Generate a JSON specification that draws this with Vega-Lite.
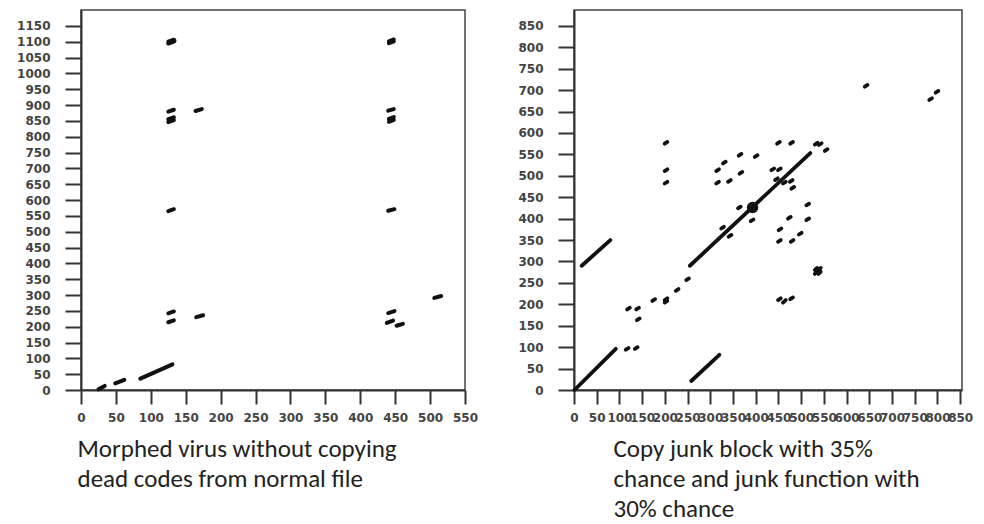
{
  "$schema": "https://vega.github.io/schema/vega-lite/v6.json",
  "padding": {"left": 15, "top": 9, "right": 0, "bottom": 0},
  "background": "white",
  "spacing": 38,
  "datasets": {
    "left": [
      {"x": 25, "y": 2, "x2": 34, "y2": 13},
      {"x": 49, "y": 21, "x2": 62, "y2": 32},
      {"x": 85, "y": 36, "x2": 131, "y2": 81},
      {"x": 125, "y": 1094, "x2": 133, "y2": 1100},
      {"x": 125, "y": 1100, "x2": 133, "y2": 1106},
      {"x": 126, "y": 1097, "x2": 134, "y2": 1103},
      {"x": 125, "y": 879, "x2": 133, "y2": 885},
      {"x": 125, "y": 855, "x2": 133, "y2": 861},
      {"x": 125, "y": 846, "x2": 133, "y2": 852},
      {"x": 125, "y": 565, "x2": 133, "y2": 571},
      {"x": 125, "y": 242, "x2": 133, "y2": 248},
      {"x": 125, "y": 214, "x2": 133, "y2": 220},
      {"x": 164, "y": 881, "x2": 173, "y2": 887},
      {"x": 165, "y": 230, "x2": 175, "y2": 236},
      {"x": 441, "y": 1095, "x2": 448, "y2": 1101},
      {"x": 441, "y": 1101, "x2": 448, "y2": 1107},
      {"x": 440, "y": 882, "x2": 448, "y2": 887},
      {"x": 441, "y": 847, "x2": 448, "y2": 853},
      {"x": 441, "y": 856, "x2": 448, "y2": 862},
      {"x": 440, "y": 566, "x2": 449, "y2": 571},
      {"x": 440, "y": 243, "x2": 449, "y2": 249},
      {"x": 438, "y": 212, "x2": 447, "y2": 219},
      {"x": 452, "y": 203, "x2": 461, "y2": 209},
      {"x": 506, "y": 291, "x2": 516, "y2": 297}
    ],
    "right": [
      {"x": 1, "y": 0, "x2": 92, "y2": 96},
      {"x": 17, "y": 290, "x2": 80, "y2": 350},
      {"x": 258, "y": 21, "x2": 320, "y2": 82},
      {"x": 255, "y": 290, "x2": 520, "y2": 553},
      {"x": 114, "y": 94, "x2": 120, "y2": 98},
      {"x": 134, "y": 96, "x2": 140, "y2": 100},
      {"x": 117, "y": 188, "x2": 123, "y2": 192},
      {"x": 137, "y": 188, "x2": 143, "y2": 192},
      {"x": 138.5, "y": 163, "x2": 144.5, "y2": 167},
      {"x": 172.5, "y": 208, "x2": 178.5, "y2": 212},
      {"x": 199.5, "y": 210, "x2": 205.5, "y2": 214},
      {"x": 199.5, "y": 204, "x2": 205.5, "y2": 208},
      {"x": 224, "y": 231.5, "x2": 230, "y2": 235.5},
      {"x": 247, "y": 256.5, "x2": 253, "y2": 260.5},
      {"x": 199.5, "y": 575, "x2": 205.5, "y2": 579},
      {"x": 199.5, "y": 511, "x2": 205.5, "y2": 515},
      {"x": 199.5, "y": 482, "x2": 205.5, "y2": 486},
      {"x": 313, "y": 511, "x2": 319, "y2": 515},
      {"x": 328, "y": 529, "x2": 334, "y2": 533},
      {"x": 313, "y": 482, "x2": 319, "y2": 486},
      {"x": 339, "y": 486, "x2": 345, "y2": 490},
      {"x": 362.5, "y": 547, "x2": 368.5, "y2": 551},
      {"x": 398, "y": 544, "x2": 404, "y2": 548},
      {"x": 364.5, "y": 505, "x2": 370.5, "y2": 509},
      {"x": 361, "y": 424, "x2": 367, "y2": 428},
      {"x": 324, "y": 377, "x2": 330, "y2": 381},
      {"x": 340.5, "y": 358, "x2": 346.5, "y2": 362},
      {"x": 389, "y": 394, "x2": 395, "y2": 398},
      {"x": 434.5, "y": 513, "x2": 440.5, "y2": 517},
      {"x": 449, "y": 513, "x2": 455, "y2": 517},
      {"x": 447, "y": 575, "x2": 453, "y2": 579},
      {"x": 476, "y": 575, "x2": 482, "y2": 579},
      {"x": 442.5, "y": 490, "x2": 448.5, "y2": 494},
      {"x": 460, "y": 482, "x2": 466, "y2": 486},
      {"x": 475, "y": 486, "x2": 481, "y2": 490},
      {"x": 478.5, "y": 470, "x2": 484.5, "y2": 474},
      {"x": 450.5, "y": 373, "x2": 456.5, "y2": 377},
      {"x": 449, "y": 346, "x2": 455, "y2": 350},
      {"x": 471, "y": 400, "x2": 477, "y2": 404},
      {"x": 477, "y": 346, "x2": 483, "y2": 350},
      {"x": 495, "y": 363, "x2": 501, "y2": 367},
      {"x": 511.5, "y": 431, "x2": 517.5, "y2": 435},
      {"x": 511.5, "y": 396.5, "x2": 517.5, "y2": 400.5},
      {"x": 530, "y": 280, "x2": 535, "y2": 285},
      {"x": 538, "y": 280, "x2": 543, "y2": 285},
      {"x": 530, "y": 271, "x2": 535, "y2": 276},
      {"x": 538, "y": 271, "x2": 543, "y2": 276},
      {"x": 449, "y": 210, "x2": 455, "y2": 214},
      {"x": 460, "y": 204, "x2": 466, "y2": 210},
      {"x": 476, "y": 212, "x2": 482, "y2": 216},
      {"x": 530, "y": 573, "x2": 536, "y2": 577},
      {"x": 539, "y": 572, "x2": 545, "y2": 576},
      {"x": 552, "y": 558, "x2": 558, "y2": 562},
      {"x": 640, "y": 708, "x2": 646, "y2": 712},
      {"x": 782, "y": 677, "x2": 788, "y2": 681},
      {"x": 796, "y": 694, "x2": 802, "y2": 698}
    ],
    "blob": [
      {"x": 393, "y": 426}
    ]
  },
  "config": {
    "view": {"stroke": "#444", "strokeWidth": 1.5},
    "axis": {
      "grid": false,
      "domainColor": "#333",
      "domainWidth": 2,
      "tickColor": "#333",
      "tickWidth": 2,
      "labelFont": "DejaVu Sans",
      "labelFontWeight": "bold",
      "labelFontSize": 12,
      "labelColor": "#444",
      "labelOverlap": false,
      "labelFlush": false,
      "format": "d",
      "titleFont": "Carlito, Liberation Sans Narrow, Open Sans",
      "titleFontWeight": "normal",
      "titleFontSize": 25,
      "titleColor": "#222",
      "titleAlign": "left",
      "titleAnchor": "start",
      "titleBaseline": "top",
      "titleLineHeight": 30
    },
    "axisX": {"tickSize": 14, "labelPadding": 8},
    "axisY": {"tickSize": 16, "labelPadding": 15}
  },
  "hconcat": [
    {
      "width": 384,
      "height": 380,
      "data": {"name": "left"},
      "mark": {"type": "rule", "strokeWidth": 4, "strokeCap": "round", "color": "#111"},
      "encoding": {
        "x": {
          "field": "x", "type": "quantitative",
          "scale": {"domain": [0, 550], "nice": false, "zero": false},
          "axis": {
            "values": [0, 50, 100, 150, 200, 250, 300, 350, 400, 450, 500, 550],
            "title": ["Morphed virus without  copying", "dead codes from normal file"],
            "titleX": -4, "titleY": 46
          }
        },
        "x2": {"field": "x2"},
        "y": {
          "field": "y", "type": "quantitative",
          "scale": {"domain": [0, 1200], "nice": false},
          "axis": {
            "values": [0, 50, 100, 150, 200, 250, 300, 350, 400, 450, 500, 550, 600, 650, 700, 750, 800, 850, 900, 950, 1000, 1050, 1100, 1150],
            "title": null
          }
        },
        "y2": {"field": "y2"}
      }
    },
    {
      "width": 388,
      "height": 380,
      "layer": [
        {
          "data": {"name": "right"},
          "mark": {"type": "rule", "strokeWidth": 3.8, "strokeCap": "round", "color": "#111"},
          "encoding": {
            "x": {
              "field": "x", "type": "quantitative",
              "scale": {"domain": [0, 854], "nice": false, "zero": false},
              "axis": {
                "values": [0, 50, 100, 150, 200, 250, 300, 350, 400, 450, 500, 550, 600, 650, 700, 750, 800, 850],
                "title": ["Copy junk block with 35%", "chance and junk function with", "30% chance"],
                "titleX": 39, "titleY": 46
              }
            },
            "x2": {"field": "x2"},
            "y": {
              "field": "y", "type": "quantitative",
              "scale": {"domain": [0, 887], "nice": false},
              "axis": {
                "values": [0, 50, 100, 150, 200, 250, 300, 350, 400, 450, 500, 550, 600, 650, 700, 750, 800, 850],
                "title": null
              }
            },
            "y2": {"field": "y2"}
          }
        },
        {
          "data": {"name": "blob"},
          "mark": {"type": "point", "shape": "circle", "filled": true, "size": 130, "color": "#111", "opacity": 1},
          "encoding": {
            "x": {
              "field": "x", "type": "quantitative",
              "scale": {"domain": [0, 854], "nice": false, "zero": false},
              "axis": {
                "values": [0, 50, 100, 150, 200, 250, 300, 350, 400, 450, 500, 550, 600, 650, 700, 750, 800, 850],
                "title": ["Copy junk block with 35%", "chance and junk function with", "30% chance"],
                "titleX": 39, "titleY": 46
              }
            },
            "y": {
              "field": "y", "type": "quantitative",
              "scale": {"domain": [0, 887], "nice": false},
              "axis": {
                "values": [0, 50, 100, 150, 200, 250, 300, 350, 400, 450, 500, 550, 600, 650, 700, 750, 800, 850],
                "title": null
              }
            }
          }
        }
      ]
    }
  ]
}
